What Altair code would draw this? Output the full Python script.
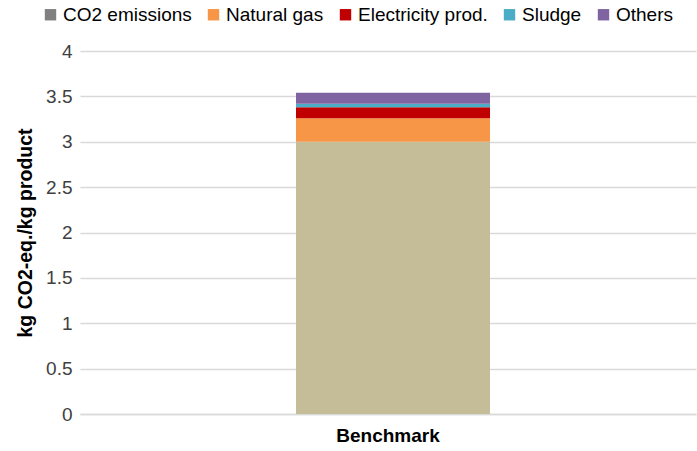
import altair as alt
import pandas as pd

# Greenhouse-gas contributions for the benchmark product (kg CO2-eq. per kg product)
sources = ["CO2 emissions", "Natural gas", "Electricity prod.", "Sludge", "Others"]
values = [3.00, 0.26, 0.12, 0.04, 0.12]
legend_colors = ["#808080", "#f79646", "#c00000", "#4bacc6", "#8064a2"]
co2_bar_color = "#c4bd97"
scenario = "Benchmark"

df = pd.DataFrame({
    "scenario": [scenario] * len(sources),
    "source": sources,
    "value": values,
    "rank": list(range(len(sources))),
})

chart = alt.Chart(df).mark_bar(size=194, xOffset=5).encode(
    x=alt.X("scenario:N", title=None,
            axis=alt.Axis(labelAngle=0, labelFont="Liberation Sans", labelFontSize=19,
                          labelFontWeight="bold", labelColor="#000000", labelPadding=12,
                          ticks=False, domainColor="#d9d9d9", domainWidth=1.3)),
    y=alt.Y("value:Q", stack="zero", title="kg CO2-eq./kg product",
            scale=alt.Scale(domain=[0, 4], nice=False),
            axis=alt.Axis(values=[0, 0.5, 1, 1.5, 2, 2.5, 3, 3.5, 4], labelExpr="datum.value",
                          labelFont="Liberation Sans", labelFontSize=19, labelColor="#404040",
                          labelPadding=8, ticks=False, domain=False,
                          gridColor="#d9d9d9", gridWidth=1.3,
                          titleFont="Liberation Sans", titleFontSize=19.5, titleFontWeight="bold",
                          titleColor="#000000", titlePadding=10)),
    color=alt.condition(
        alt.datum.source == "CO2 emissions",
        alt.value(co2_bar_color),
        alt.Color("source:N", title=None,
                  scale=alt.Scale(domain=sources, range=legend_colors),
                  legend=alt.Legend(orient="none", direction="horizontal",
                                    legendX=-39, legendY=-46,
                                    symbolType="square", symbolSize=130,
                                    symbolStrokeWidth=0, symbolOffset=0,
                                    labelFont="Liberation Sans", labelFontSize=19,
                                    labelColor="#000000", labelOffset=3,
                                    columnPadding=12)),
    ),
    order=alt.Order("rank:Q", sort="ascending"),
).properties(
    width=616,
    height=363,
    padding={"left": 80, "top": 51, "right": 1, "bottom": 37},
    autosize="none",
).configure_view(stroke=None).configure_scale(bandPaddingInner=0, bandPaddingOuter=0)

chart.save("out.html", embed_options={"renderer": "svg", "actions": False})
